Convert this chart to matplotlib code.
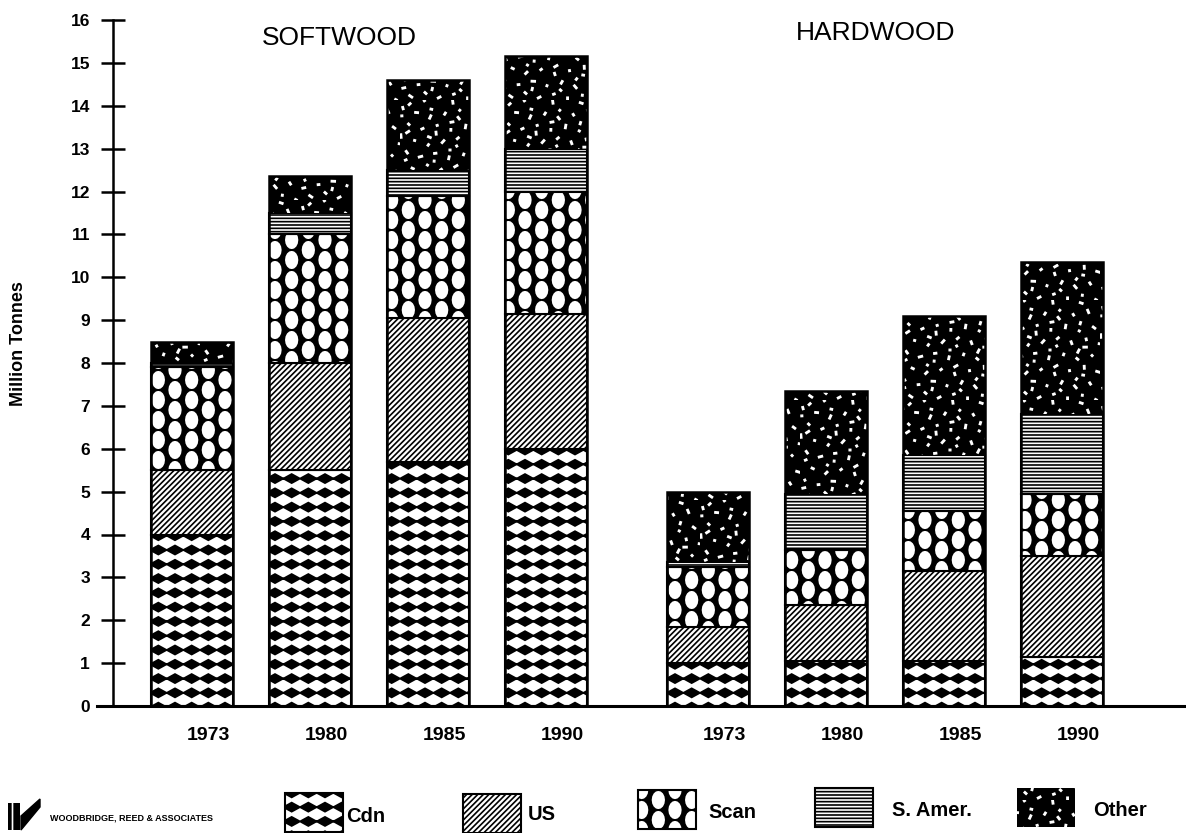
import numpy as np
import matplotlib
matplotlib.use('Agg')
import matplotlib.pyplot as plt
import matplotlib.hatch as mhatch
from matplotlib.path import Path
from matplotlib.patches import Rectangle, Polygon

# bar labels, softwood group first then hardwood
years = ['1973', '1980', '1985', '1990', '1973', '1980', '1985', '1990']
groups = ['SOFTWOOD', 'HARDWOOD']

# million tonnes by source
cdn = [4.0, 5.5, 5.7, 6.0, 1.0, 1.05, 1.05, 1.15]
us = [1.5, 2.5, 3.35, 3.15, 0.85, 1.3, 2.1, 2.35]
scan = [2.4, 3.0, 2.85, 2.85, 1.4, 1.3, 1.4, 1.45]
s_amer = [0.1, 0.5, 0.6, 1.0, 0.1, 1.3, 1.3, 1.85]
other = [0.5, 0.85, 2.1, 2.15, 1.65, 2.4, 3.25, 3.55]

sources = ['Cdn', 'US', 'Scan', 'S. Amer.', 'Other']


# --- extra fill patterns (one hatch tile = 1 inch) ---
class Diamonds(mhatch.HatchPatternBase):
    # rows of solid diamonds, tip to tip
    def __init__(self, hatch, density):
        self.rows = 7 if 'o' in hatch else 0
        self.cols = 6
        self.num_vertices = self.rows * self.cols * 5

    def set_vertices_and_codes(self, vertices, codes):
        hw, hh = 0.5 / self.cols, 0.32 / self.rows
        shape = np.array([[-hw, 0], [0, -hh], [hw, 0], [0, hh], [-hw, 0]])
        pts = [shape + [(i + 0.5) / self.cols, (j + 0.5) / self.rows]
               for j in range(self.rows) for i in range(self.cols)]
        vertices[:] = np.concatenate(pts)
        codes[:] = np.tile([Path.MOVETO] + [Path.LINETO] * 3 + [Path.CLOSEPOLY], len(pts))


class Mesh(mhatch.HatchPatternBase):
    # dark net with staggered oval holes
    def __init__(self, hatch, density):
        self.centres = []
        if 'O' in hatch:
            for i in range(6):
                if i % 2 == 0:
                    ys = [(j + 0.5) / 5 for j in range(5)]
                else:
                    ys = [j / 5 for j in range(6)]
                self.centres += [((i + 0.5) / 6, y) for y in ys]
        self.num_vertices = (5 + 17 * len(self.centres)) if self.centres else 0

    def set_vertices_and_codes(self, vertices, codes):
        outer = np.array([[-0.05, -0.05], [1.05, -0.05], [1.05, 1.05], [-0.05, 1.05], [-0.05, -0.05]])
        t = np.linspace(2 * np.pi, 0, 17)
        hole = np.column_stack([0.075 * np.cos(t), 0.1 * np.sin(t)])
        pts = [outer] + [hole + c for c in self.centres]
        vertices[:] = np.concatenate(pts)
        hole_codes = [Path.MOVETO] + [Path.LINETO] * 15 + [Path.CLOSEPOLY]
        codes[:] = ([Path.MOVETO] + [Path.LINETO] * 3 + [Path.CLOSEPOLY]
                    + hole_codes * len(self.centres))


class Speckle(mhatch.HatchPatternBase):
    # scattered small flecks
    def __init__(self, hatch, density):
        self.n = 75 if '*' in hatch else 0
        self.num_vertices = self.n * 5

    def set_vertices_and_codes(self, vertices, codes):
        g = 1.32471795724
        k = np.arange(self.n)
        cx = (0.5 + k / g) % 1
        cy = (0.5 + k / g ** 2) % 1
        ang = k * 2.39996
        length = 0.014 + 0.024 * ((k * 7) % 5) / 4
        width = 0.012
        pts = []
        for i in range(self.n):
            c, s = np.cos(ang[i]), np.sin(ang[i])
            box = np.array([[-length[i], -width], [length[i], -width],
                            [length[i], width], [-length[i], width],
                            [-length[i], -width]]) / 2
            rot = box @ np.array([[c, s], [-s, c]])
            pts.append(rot + [cx[i], cy[i]])
        vertices[:] = np.concatenate(pts)
        codes[:] = np.tile([Path.MOVETO] + [Path.LINETO] * 3 + [Path.CLOSEPOLY], self.n)


mhatch._hatch_types = [mhatch.HorizontalHatch, mhatch.VerticalHatch,
                       mhatch.NorthEastHatch, mhatch.SouthEastHatch,
                       Diamonds, Mesh, Speckle]

plt.rcParams['font.family'] = ['Liberation Sans', 'DejaVu Sans']
plt.rcParams['hatch.linewidth'] = 1.2

# face, hatch colour, hatch code for each source
styles = [('white', 'black', 'o'),
          ('white', 'black', '//////'),
          ('white', 'black', 'O'),
          ('white', 'black', '-----'),
          ('black', 'white', '*')]

fig = plt.figure(figsize=(11.86, 8.33), dpi=100)
ax = fig.add_axes([97 / 1186, 1 - 706 / 833, 1089 / 1186, 686 / 833])

x = np.arange(len(years)) + np.repeat([0, 0.37], 4)
bottom = np.zeros(len(years))
for vals, (face, hcol, hatch) in zip([cdn, us, scan, s_amer, other], styles):
    lw = 1.5 if hcol == 'black' else 0
    ax.bar(x, vals, width=0.69, bottom=bottom, color=face, edgecolor=hcol,
           linewidth=lw, hatch=hatch)
    bottom += np.array(vals)
# outline of each full stack
ax.bar(x, bottom, width=0.69, fill=False, edgecolor='black', linewidth=1.8)

ax.set_xlim(-0.805, 8.42)
ax.set_ylim(0, 16)
ax.spines[['top', 'right']].set_visible(False)
ax.spines['left'].set_position(('axes', 16 / 1089))
ax.spines['left'].set_linewidth(1.8)
ax.spines['bottom'].set_linewidth(2.2)
ax.set_yticks(range(17))
ax.tick_params(axis='y', direction='inout', length=17, width=1.8, pad=8, labelsize=12.5)
ax.set_xticks(x + 0.14, years)
ax.tick_params(axis='x', length=0, pad=15, labelsize=14)
for lab in ax.get_xticklabels() + ax.get_yticklabels():
    lab.set_fontweight('bold')

ax.set_ylabel('Million Tonnes', fontsize=13, fontweight='bold')
ax.yaxis.set_label_coords(27 / 1186, 1 - 344 / 833, transform=fig.transFigure)

ax.text(1.25, 15.58, groups[0], ha='center', va='center', fontsize=19)
ax.text(5.79, 15.70, groups[1], ha='center', va='center', fontsize=19)

# legend strip along the bottom, in pixel units
lg = fig.add_axes([0, 0, 1, 1])
lg.set_xlim(0, 1186)
lg.set_ylim(833, 0)
lg.axis('off')

# company mark
lg.add_patch(Rectangle((8, 803), 12, 27, facecolor='black', edgecolor='white',
                       linewidth=0, hatch='||'))
lg.add_patch(Polygon([(21, 830), (21, 816), (40, 799), (40, 807)], closed=True,
                     facecolor='black', edgecolor='black'))
lg.text(50, 818, 'WOODBRIDGE, REED & ASSOCIATES', fontsize=6.5, fontweight='bold',
        va='center')

boxes = [(285, 793), (463, 794), (638, 790), (815, 788), (1017, 788)]
text_x = [346, 528, 708, 892, 1093]
text_y = [817, 815, 813, 810, 810]
for name, (face, hcol, hatch), (bx, by), tx, ty in zip(sources, styles, boxes, text_x, text_y):
    lw = 1.5 if hcol == 'black' else 0
    lg.add_patch(Rectangle((bx, by), 58, 39, facecolor=face, edgecolor=hcol,
                           linewidth=lw, hatch=hatch))
    lg.text(tx, ty, name, fontsize=14.5, fontweight='bold', va='center')

fig.savefig('out.png', dpi=100)
